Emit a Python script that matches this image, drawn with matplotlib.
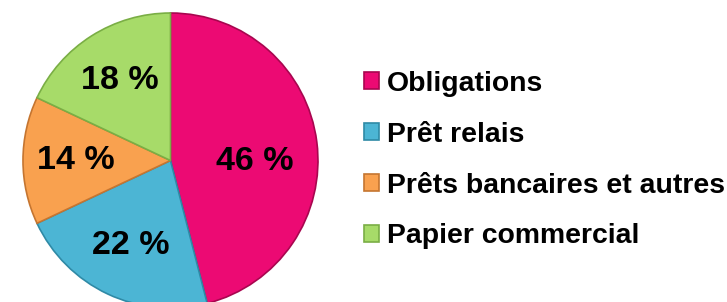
import matplotlib
matplotlib.use('Agg')
import matplotlib.pyplot as plt

# financing mix
categories = ['Obligations', 'Prêt relais', 'Prêts bancaires et autres', 'Papier commercial']
shares = [46, 22, 14, 18]
colors = ['#EC0A73', '#4CB5D4', '#F9A14F', '#A7DB69']
edges = ['#A8064F', '#2F8AA6', '#C57530', '#7AAE45']

plt.rcParams['font.family'] = ['Liberation Sans', 'DejaVu Sans']
plt.rcParams['font.weight'] = 'bold'

fig = plt.figure(figsize=(7.27, 3.02), dpi=100)
ax = fig.add_axes([0.0316, -0.0199, 0.4058, 0.9768])

wedges, texts, autotexts = ax.pie(
    shares, colors=colors, startangle=90, counterclock=False,
    autopct=lambda p: f'{p:.0f} %', pctdistance=0.64,
    wedgeprops=dict(linewidth=1.2),
    textprops=dict(fontsize=24.5, fontweight='bold', color='black'))

for w, ec in zip(wedges, edges):
    w.set_edgecolor(ec)

# the big slice label sits a bit closer to the centre, on the horizontal
x, y = autotexts[0].get_position()
autotexts[0].set_position((x * 0.9, -0.01))

ax.set_xlim(-1, 1)
ax.set_ylim(-1, 1)
ax.axis('off')

fig.legend(wedges, categories, loc='center left', bbox_to_anchor=(364 / 727, 0.47),
           frameon=False, handlelength=0.52, handleheight=0.52,
           handletextpad=0.3, labelspacing=0.88, borderpad=0, borderaxespad=0,
           prop=dict(weight='bold', size=20.4))

fig.savefig('out.png', dpi=100)
